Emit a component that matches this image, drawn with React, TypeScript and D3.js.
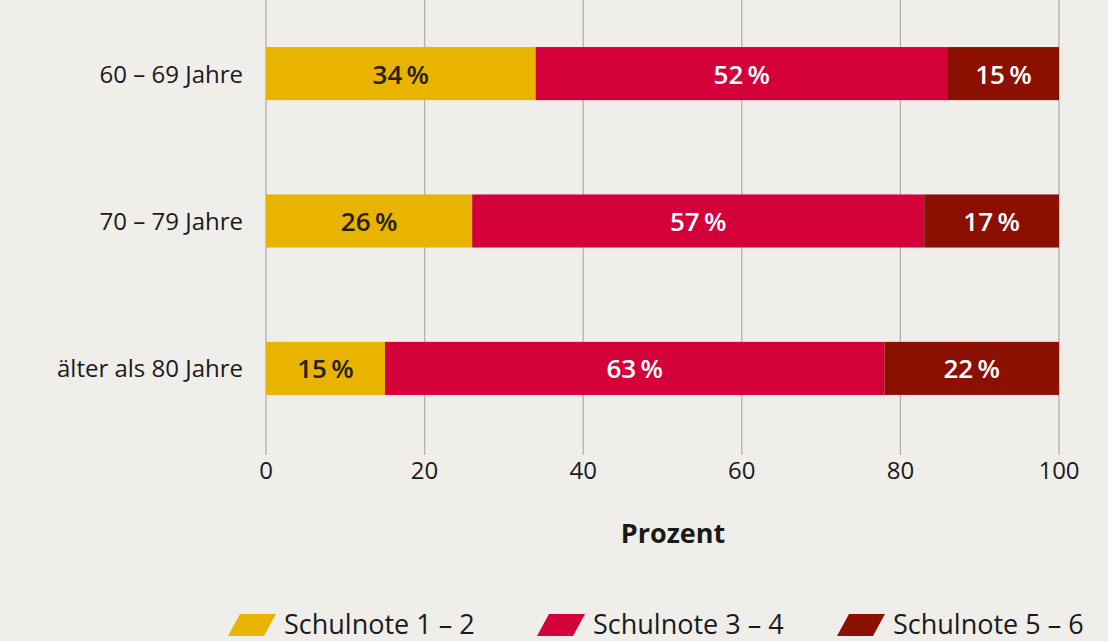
import React, { useEffect, useRef } from "react";
import * as d3 from "d3";

const categories = ["60 – 69 Jahre", "70 – 79 Jahre", "älter als 80 Jahre"];
const seriesNames = ["Schulnote 1 – 2", "Schulnote 3 – 4", "Schulnote 5 – 6"];
const note12 = [34, 26, 15];
const note34 = [52, 57, 63];
const note56 = [15, 17, 22];
const xTicks = [0, 20, 40, 60, 80, 100];
const colors = ["#e8b400", "#d4003a", "#8c1000"];
const labelColors = ["#2a1d00", "#ffffff", "#ffffff"];

export default function App() {
  const ref = useRef<SVGSVGElement>(null);

  useEffect(() => {
    const width = 1108, height = 641;
    const svg = d3.select(ref.current);
    svg.selectAll("*").remove();
    const font = "'Open Sans', 'Noto Sans', sans-serif";

    svg.append("rect").attr("width", width).attr("height", height).attr("fill", "#f0eeea");

    // clamp: first row sums to 101 (rounding), bar still ends at 100
    const x = d3.scaleLinear().domain([0, 100]).range([266, 1059]).clamp(true);
    const y = d3.scaleBand().domain(categories).range([22, 420]).paddingInner(0.64).paddingOuter(0.17);

    const rows = categories.map((c, i) => ({ cat: c, a: note12[i], b: note34[i], c: note56[i] }));
    const stack = d3.stack<any>().keys(["a", "b", "c"]);
    const series = stack(rows);

    // grid
    svg.append("g").selectAll("line").data(xTicks).enter().append("line")
      .attr("x1", d => x(d)).attr("x2", d => x(d))
      .attr("y1", 0).attr("y2", 455)
      .attr("stroke", "#b3b0aa").attr("stroke-width", 1.3);

    svg.append("g").selectAll("text").data(xTicks).enter().append("text")
      .attr("x", d => x(d)).attr("y", 479)
      .attr("text-anchor", "middle")
      .attr("font-family", font).attr("font-size", 24).attr("fill", "#1a1a1a")
      .text(d => d);

    svg.append("text").attr("x", 673).attr("y", 543).attr("text-anchor", "middle")
      .attr("font-family", font).attr("font-size", 27).attr("font-weight", "bold").attr("fill", "#1a1a1a")
      .text("Prozent");

    // categories
    svg.append("g").selectAll("text").data(categories).enter().append("text")
      .attr("x", 243).attr("y", d => y(d)! + y.bandwidth() / 2 + 9)
      .attr("text-anchor", "end")
      .attr("font-family", font).attr("font-size", 24).attr("fill", "#1a1a1a")
      .text(d => d);

    // bars
    const groups = svg.append("g").selectAll("g").data(series).enter().append("g");
    groups.selectAll("rect").data((s: any) => s.map((d: any) => ({ d, k: s.index }))).enter().append("rect")
      .attr("x", (p: any) => x(p.d[0]))
      .attr("y", (p: any) => y(p.d.data.cat)!)
      .attr("width", (p: any) => x(p.d[1]) - x(p.d[0]))
      .attr("height", y.bandwidth())
      .attr("fill", (p: any) => colors[p.k]);
    groups.selectAll("text").data((s: any) => s.map((d: any) => ({ d, k: s.index }))).enter().append("text")
      .attr("x", (p: any) => (x(p.d[0]) + x(p.d[1])) / 2)
      .attr("y", (p: any) => y(p.d.data.cat)! + y.bandwidth() / 2 + 10)
      .attr("text-anchor", "middle")
      .attr("font-family", font).attr("font-size", 26).attr("font-weight", 600)
      .attr("fill", (p: any) => labelColors[p.k])
      .text((p: any) => `${p.d[1] - p.d[0]}\u2009%`);

    // legend
    const legendX = [228, 537, 837];
    const lg = svg.append("g").selectAll("g").data(seriesNames).enter().append("g")
      .attr("transform", (_d, i) => `translate(${legendX[i]},614)`);
    lg.append("path").attr("d", "M0,22 L12,0 L48,0 L36,22 Z").attr("fill", (_d, i) => colors[i]);
    lg.append("text").attr("x", 56).attr("y", 20)
      .attr("font-family", font).attr("font-size", 27).attr("fill", "#1a1a1a")
      .text(d => d);
  }, []);

  return (
    <svg ref={ref} width={1108} height={641}
      style={{ position: "absolute", left: 0, top: 0, display: "block" }} />
  );
}
